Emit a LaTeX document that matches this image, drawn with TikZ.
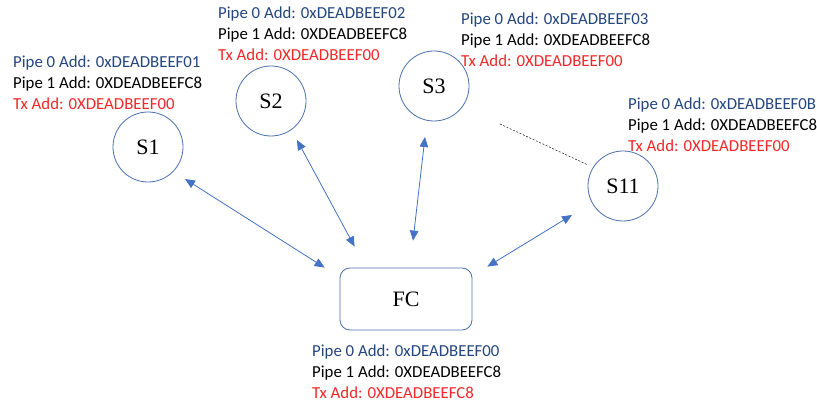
\documentclass[tikz,border=0pt]{standalone}
\usepackage{fontspec}
\setmainfont{Liberation Serif}
\newfontfamily\labelfont{Carlito}
\usetikzlibrary{arrows.meta,calc}
\definecolor{edgeblue}{HTML}{4472C4}
\definecolor{ringblue}{HTML}{4A70AE}
\definecolor{pipeblue}{HTML}{24467F}
\definecolor{txred}{HTML}{F02828}
\tikzset{
  station/.style={circle, draw=ringblue, line width=0.8pt, minimum size=70pt,
    inner sep=0pt, font=\fontsize{22}{24}\selectfont},
  hub/.style={rectangle, rounded corners=10pt, draw=ringblue, line width=0.8pt,
    minimum width=132pt, minimum height=62pt, inner sep=0pt,
    font=\fontsize{22}{24}\selectfont},
  addrs/.style={anchor=north west, inner sep=0pt, align=left,
    font=\labelfont\fontsize{16.8}{20.6}\selectfont},
  link/.style={draw=edgeblue, line width=0.8pt,
    {Triangle[length=10pt,width=8.5pt]}-{Triangle[length=10pt,width=8.5pt]}},
  farlink/.style={draw=black!80, line width=0.6pt, dash pattern=on 2pt off 1.6pt}
}
\newcommand{\addrblock}[3]{%
  \textcolor{pipeblue}{Pipe 0 Add: #1}\\
  Pipe 1 Add: #2\\
  \textcolor{txred}{Tx Add: #3}}
\begin{document}
\begin{tikzpicture}[x=1pt,y=-1pt]
  \useasboundingbox[fill=white] (0,0) rectangle (817,403);

  % stations and the flight controller
  \node[station] (S1)  at (148,147) {S1};
  \node[station] (S2)  at (271,101) {S2};
  \node[station] (S3)  at (434,86)  {S3};
  \node[station] (S11) at (623,186) {S11};
  \node[hub]     (FC)  at (406,299) {FC};

  % address tables
  \node[addrs] (T1)  at (13,56)   {\addrblock{0xDEADBEEF01}{0XDEADBEEFC8}{0XDEADBEEF00}};
  \node[addrs] (T2)  at (218,7)   {\addrblock{0xDEADBEEF02}{0XDEADBEEFC8}{0XDEADBEEF00}};
  \node[addrs] (T3)  at (461,13)  {\addrblock{0xDEADBEEF03}{0XDEADBEEFC8}{0XDEADBEEF00}};
  \node[addrs] (T11) at (628,98)  {\addrblock{0xDEADBEEF0B}{0XDEADBEEFC8}{0XDEADBEEF00}};
  \node[addrs] (TFC) at (312,345) {\addrblock{0xDEADBEEF00}{0XDEADBEEFC8}{0XDEADBEEFC8}};

  % radio links
  \draw[link] ($(S1)+(37,32)$)   -- ($(FC.north west)+(-15,0)$);
  \draw[link] ($(S2)+(26,39)$)   -- ($(FC.north west)+(15,-21)$);
  \draw[link] ($(S3)+(-9,51)$)   -- ($(FC.north)+(7,-27)$);
  \draw[link] ($(S11)+(-51,29)$) -- ($(FC.north east)+(15,-1)$);

  % further stations between S3 and S11
  \coordinate (more) at (500,124);
  \draw[farlink] (more) -- ($(S11)+(-35,-21)$);
\end{tikzpicture}
\end{document}
